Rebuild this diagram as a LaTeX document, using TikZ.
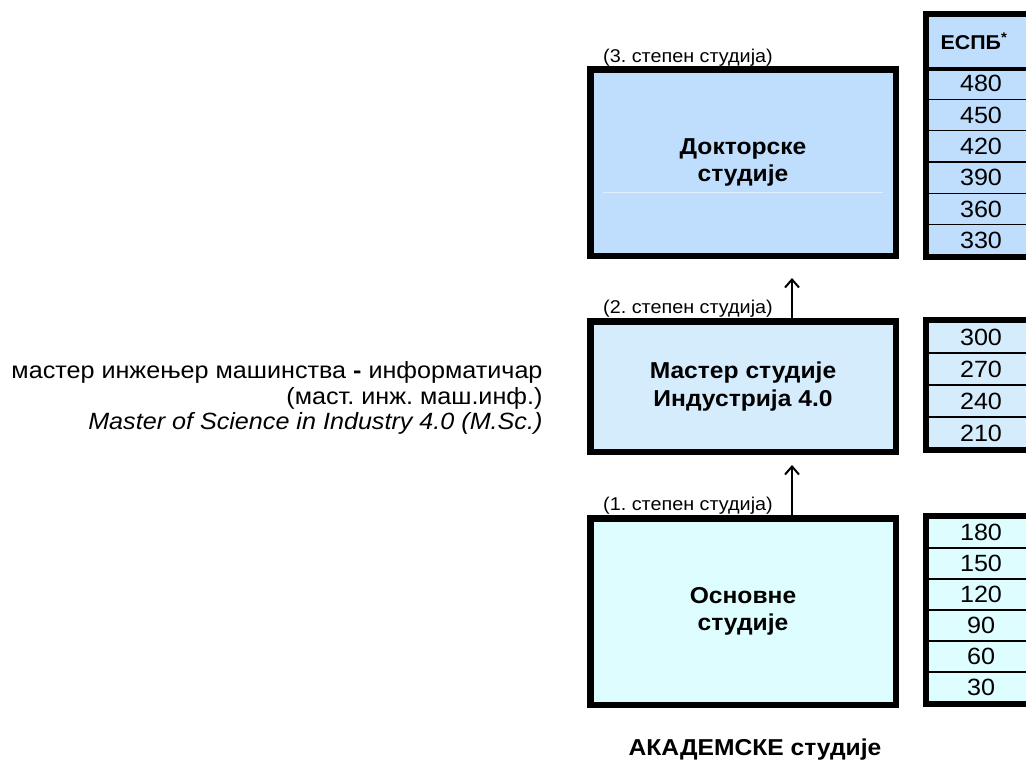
\documentclass[tikz,border=0pt]{standalone}
\usepackage{fontspec}
\setmainfont{Liberation Sans}[FakeStretch=1.07]
\usetikzlibrary{arrows.meta}
\definecolor{docblue}{RGB}{191,221,253}
\definecolor{masterblue}{RGB}{213,236,253}
\definecolor{basicblue}{RGB}{221,253,254}
\frenchspacing

\begin{document}
\begin{tikzpicture}[
  x=1pt, y=-1pt,
  degree/.style={draw, line width=6.5pt, minimum width=305.5pt, inner sep=0pt, align=center,
    font=\bfseries\fontsize{23}{27.5}\selectfont},
  ects/.style={draw, line width=1.5pt, minimum width=108pt, inner sep=0pt,
    font=\fontsize{23.5}{23.5}\selectfont},
  frame/.style={line width=6pt},
  level/.style={anchor=base west, inner sep=0pt, font=\fontsize{18.5}{18.5}\selectfont},
  up/.style={-{Straight Barb[length=8pt,width=14pt]}, line width=2pt}]

  \useasboundingbox (0,0) rectangle (1026,763);

  % degree boxes
  \node[degree, fill=docblue, minimum height=186.5pt] (doctoral) at (743,162.5) {Докторске\\студије};
  \node[degree, fill=masterblue, minimum height=130.5pt] (master) at (743,386.5) {Мастер студије\\Индустрија 4.0};
  \node[degree, fill=basicblue, minimum height=186.5pt] (basic) at (743,611.5) {Основне\\студије};
  \draw[white!55!docblue, line width=1pt] (603,192) -- (883,192);

  \node[level] (level-3) at (603,62) {(3. степен студија)};
  \node[level] (level-2) at (603,313) {(2. степен студија)};
  \node[level] (level-1) at (603,510) {(1. степен студија)};

  % arrows between levels
  \coordinate (tip-2) at (792,278);
  \coordinate (tip-1) at (792,465);
  \draw[up] (tip-2 |- master.north) -- (tip-2);
  \draw[up] (tip-1 |- basic.north) -- (tip-1);

  % ECTS column
  \node[ects, fill=docblue, minimum height=53pt, font=\bfseries\fontsize{20}{20}\selectfont]
    (ects-head) at (981,41.5) {ЕСПБ\textsuperscript{*}\hspace*{14pt}};
  \foreach \v [count=\i] in {480,450,420,390,360,330}
    \node[ects, fill=docblue, minimum height=31.33pt] (ects-\v) at (981,{68+31.33*\i-15.67}) {\v};
  \draw[line width=4pt] (ects-head.south west) -- (ects-head.south east);
  \draw[frame] (ects-head.north west) rectangle (ects-330.south east);

  \foreach \v [count=\i] in {300,270,240,210}
    \node[ects, fill=masterblue, minimum height=32pt] (ects-\v) at (981,{321+32*\i-16}) {\v};
  \draw[frame] (ects-300.north west) rectangle (ects-210.south east);

  \foreach \v [count=\i] in {180,150,120,90,60,30}
    \node[ects, fill=basicblue, minimum height=31pt] (ects-\v) at (981,{517+31*\i-15.5}) {\v};
  \draw[frame] (ects-180.north west) rectangle (ects-30.south east);

  % title of the master degree
  \node[align=right, anchor=east, font=\fontsize{23.5}{25.5}\selectfont] (title) at (546,398)
    {мастер инжењер машинства \textbf{-} информатичар\\
     (маст. инж. маш.инф.)\\
     \textit{Master of Science in Industry 4.0 (M.Sc.)}};

  \node[font=\bfseries\fontsize{23}{23}\selectfont] (academic) at (755,750) {АКАДЕМСКЕ студије};
\end{tikzpicture}
\end{document}
